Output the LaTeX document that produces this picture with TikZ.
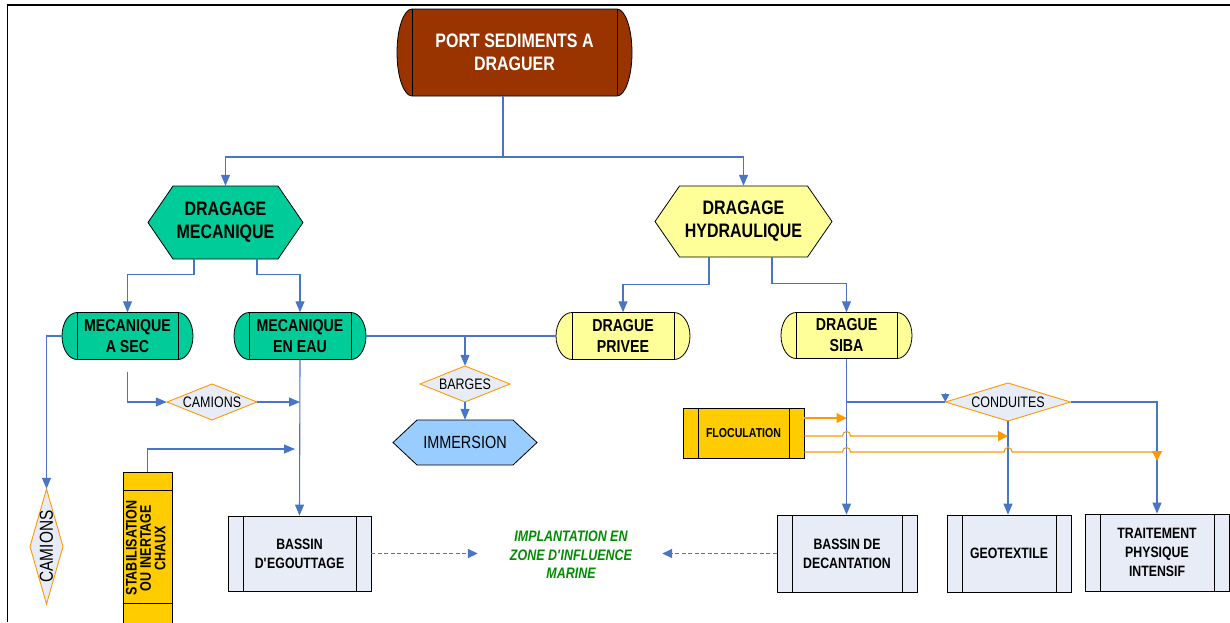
\documentclass[tikz,border=0pt]{standalone}
\usepackage{fontspec}
\usepackage{graphicx}
\newfontfamily\fA[FakeStretch=0.82]{Liberation Sans}
\usetikzlibrary{arrows.meta}
\definecolor{brownport}{RGB}{153,51,0}
\definecolor{mecgreen}{RGB}{0,204,153}
\definecolor{hydyellow}{RGB}{255,255,153}
\definecolor{goldbox}{RGB}{255,204,0}
\definecolor{procfill}{RGB}{231,236,246}
\definecolor{immblue}{RGB}{153,204,255}
\definecolor{lineblue}{RGB}{72,118,196}
\definecolor{lineorange}{RGB}{255,153,0}
\definecolor{implgreen}{RGB}{0,140,0}

% capsule: cx cy innerhalfwidth halfheight capradius fill
\newcommand\capsh[6]{%
 \begin{scope}[shift={(#1,#2)}]
 \filldraw[fill=#6,draw=black,line width=0.8pt] (-#3,-#4) -- (#3,-#4)
  .. controls ({#3+0.55*#5},-#4) and ({#3+#5},{-0.55*#4}) .. ({#3+#5},0)
  .. controls ({#3+#5},{0.55*#4}) and ({#3+0.55*#5},#4) .. (#3,#4)
  -- (-#3,#4)
  .. controls ({-#3-0.55*#5},#4) and ({-#3-#5},{0.55*#4}) .. ({-#3-#5},0)
  .. controls ({-#3-#5},{-0.55*#4}) and ({-#3-0.55*#5},-#4) .. (-#3,-#4) -- cycle;
 \draw[line width=0.8pt] (-#3,-#4) -- (-#3,#4) (#3,-#4) -- (#3,#4);
 \end{scope}}
% hexagon: cx cy pointhalfwidth tophalfwidth halfheight fill
\newcommand\hexsh[6]{%
 \begin{scope}[shift={(#1,#2)}]
 \filldraw[fill=#6,draw=black,line width=0.8pt] (-#3,0) -- (-#4,-#5) -- (#4,-#5) -- (#3,0) -- (#4,#5) -- (-#4,#5) -- cycle;
 \end{scope}}
% diamond: cx cy halfwidth halfheight
\newcommand\diash[4]{%
 \begin{scope}[shift={(#1,#2)}]
 \filldraw[fill=procfill,draw=lineorange,line width=0.9pt] (-#3,0) -- (0,-#4) -- (#3,0) -- (0,#4) -- cycle;
 \end{scope}}

\begin{document}
\begin{tikzpicture}[x=1pt,y=-1pt,
 lbl/.style={inner sep=0pt, align=center, text=black},
 bigt/.style={font=\fA\bfseries\fontsize{19.5}{23}\selectfont},
 medt/.style={font=\fA\bfseries\fontsize{17.3}{21}\selectfont},
 smallt/.style={font=\fA\bfseries\fontsize{15}{19}\selectfont},
 diat/.style={font=\fA\fontsize{15.2}{17}\selectfont},
 proc/.style={draw=black, line width=0.8pt, fill=procfill, inner sep=0pt, align=center,
   path picture={\draw[line width=0.8pt]
     ([xshift=15pt]path picture bounding box.north west) -- ([xshift=15pt]path picture bounding box.south west)
     ([xshift=-15pt]path picture bounding box.north east) -- ([xshift=-15pt]path picture bounding box.south east);}},
 conn/.style={draw=lineblue, line width=1.1pt},
 arr/.style={conn, -{Triangle[length=11pt,width=9pt]}},
 arrsmall/.style={conn, -{Triangle[length=8pt,width=8pt]}},
 darr/.style={conn, line width=1.8pt, dash pattern=on 4pt off 2.5pt, -{Triangle[length=10pt,width=9pt]}},
 oarr/.style={draw=lineorange, line width=1.1pt, -{Triangle[length=10pt,width=10pt]}}
]
\useasboundingbox (0,0) rectangle (1230,622);
\draw[line width=1.5pt] (7.5,622) -- (7.5,5) -- (1230,5);

% top
\capsh{514.5}{52.5}{102.5}{43.5}{15}{brownport}
\node[lbl, bigt, text=white, minimum width=235pt, minimum height=87pt] (port) at (514.5,52.5) {PORT SEDIMENTS A\\DRAGUER};

% hexagons
\hexsh{225.5}{222.5}{77.5}{52.5}{36.5}{mecgreen}
\node[lbl, bigt, minimum width=155pt, minimum height=73pt] (mec) at (225.5,222.5) {DRAGAGE\\MECANIQUE};
\hexsh{743.5}{221.5}{88.5}{64}{35.5}{hydyellow}
\node[lbl, bigt, minimum width=177pt, minimum height=71pt] (hyd) at (743.5,221.5) {DRAGAGE\\HYDRAULIQUE};

% capsules
\capsh{127.5}{336}{50.5}{23.5}{15}{mecgreen}
\node[lbl, medt, minimum width=131pt, minimum height=47pt] (asec) at (127.5,336) {MECANIQUE\\A SEC};
\capsh{300}{336}{51}{23.5}{15}{mecgreen}
\node[lbl, medt, minimum width=132pt, minimum height=47pt] (eneau) at (300,336) {MECANIQUE\\EN EAU};
\capsh{623}{336}{51}{23.5}{16}{hydyellow}
\node[lbl, medt, minimum width=134pt, minimum height=47pt] (privee) at (623,336) {DRAGUE\\PRIVEE};
\capsh{846.5}{335.5}{50.5}{23}{15}{hydyellow}
\node[lbl, medt, minimum width=131pt, minimum height=46pt] (siba) at (846.5,335.5) {DRAGUE\\SIBA};

% diamonds
\diash{465}{384}{45}{18}
\node[lbl, diat, minimum width=90pt, minimum height=36pt] (barges) at (465,384) {BARGES};
\diash{212}{402}{45}{18}
\node[lbl, diat, minimum width=90pt, minimum height=36pt] (camh) at (212,402) {CAMIONS};
\diash{1008}{402}{62.5}{19}
\node[lbl, diat, minimum width=125pt, minimum height=38pt] (cond) at (1008,402) {CONDUITES};
\diash{46.5}{546.5}{16.5}{57.5}
\node[lbl, font=\fA\fontsize{18.8}{20}\selectfont, minimum width=33pt, minimum height=115pt] (camv) at (46.5,546.5) {\rotatebox{90}{CAMIONS}};

% immersion
\hexsh{465}{442.5}{72}{48}{22.5}{immblue}
\node[lbl, font=\fA\fontsize{17.6}{20}\selectfont, minimum width=144pt, minimum height=45pt] (imm) at (465,442.5) {IMMERSION};

% process boxes
\node[proc, smallt, minimum width=143pt, minimum height=75pt] (egout) at (299.5,553.5) {BASSIN\\D\textquotesingle EGOUTTAGE};
\node[proc, smallt, minimum width=140pt, minimum height=77pt] (decant) at (847,553.5) {BASSIN DE\\DECANTATION};
\node[proc, smallt, minimum width=124pt, minimum height=77pt] (geo) at (1009,553.5) {GEOTEXTILE};
\node[proc, smallt, minimum width=144pt, minimum height=77pt] (trait) at (1157,552.5) {TRAITEMENT\\PHYSIQUE\\INTENSIF};
\node[proc, fill=goldbox, font=\fA\bfseries\fontsize{12.9}{15}\selectfont, minimum width=121pt, minimum height=50pt] (flo) at (743.5,433) {FLOCULATION};

% stabilisation
\node[draw=black, line width=0.8pt, fill=goldbox, minimum width=49pt, minimum height=152pt, inner sep=0pt,
  font=\fA\bfseries\fontsize{15.3}{12.5}\selectfont] (stab) at (147.5,548)
  {\rotatebox{90}{\begin{tabular}{@{}c@{}}STABILISATION\\OU INERTAGE\\CHAUX\end{tabular}}};
\draw[line width=0.8pt] ([yshift=-19pt]stab.north west) -- ([yshift=-19pt]stab.north east);
\draw[line width=0.8pt] ([yshift=-132pt]stab.north west) -- ([yshift=-132pt]stab.north east);

% implantation
\node[lbl, text=implgreen, font=\fA\bfseries\itshape\fontsize{15.2}{18.5}\selectfont] (impl) at (571,555) {IMPLANTATION EN\\ZONE D\textquotesingle INFLUENCE\\MARINE};

% connectors
\coordinate (j0) at (503,157);
\draw[conn] (j0 |- port.south) -- (j0);
\draw[arr] (j0) -| (mec.north);
\draw[arr] (j0) -| (hyd.north);

\draw[arr] ([xshift=-31.5pt]mec.south) -- ++(0,15) -| (asec.north);
\draw[arr] ([xshift=31.5pt]mec.south) -- ++(0,15) -| (eneau.north);
\draw[arr] ([xshift=-34.5pt]hyd.south) -- ++(0,27) -| (privee.north);
\draw[arr] ([xshift=28.5pt]hyd.south) -- ++(0,26) -| (siba.north);

\coordinate (j1) at (barges.north |- eneau.east);
\draw[conn] (eneau.east) -- (j1) -- (j1 -| privee.west);
\draw[arr] (j1) -- (barges.north);
\draw[arr] (barges.south) -- (imm.north);

\draw[arr] ([yshift=-12pt]asec.south) |- (camh.west);
\draw[arr] (camh.east) -- (camh.east -| eneau.south);
\draw[arr] (eneau.south) -- (egout.north);
\coordinate (stabend) at (295,449);
\draw[arr] (stab.north) |- (stabend);
\draw[arr] (asec.west) -| (camv.north);

\draw[darr, shorten >=32pt] (egout.east) -- (impl.west |- egout.east);
\draw[darr, shorten >=30pt] (decant.west) -- (impl.east |- decant.west);

\draw[arr] (siba.south) -- (siba.south |- decant.north);
\coordinate (sb) at (siba.south |- cond.west);
\draw[conn] (sb) -- (cond.west);
\draw[arrsmall] ([yshift=9pt]cond.west) -- (cond.west);
\draw[arr] (cond.east) -| (trait.north);
\draw[arr] (cond.south) -- (cond.south |- geo.north);

% orange
\coordinate (o1) at ([yshift=15pt]flo.east);
\coordinate (o2) at ([yshift=-3pt]flo.east);
\coordinate (o3) at ([yshift=-19pt]flo.east);
\coordinate (o3e) at (o3 -| trait.north);
\draw[oarr] (o1) -- (o1 -| siba.south);
\draw[oarr] (o2) -- (842.5,436) .. controls (842.5,430) and (850.5,430) .. (850.5,436) -- (o2 -| cond.south);
\draw[oarr] (o3) -- (842.5,452) .. controls (842.5,446) and (850.5,446) .. (850.5,452)
  -- (1004,452) .. controls (1004,446) and (1012,446) .. (1012,452) -- (o3e) -- ([yshift=-9pt]o3e);
\end{tikzpicture}
\end{document}
